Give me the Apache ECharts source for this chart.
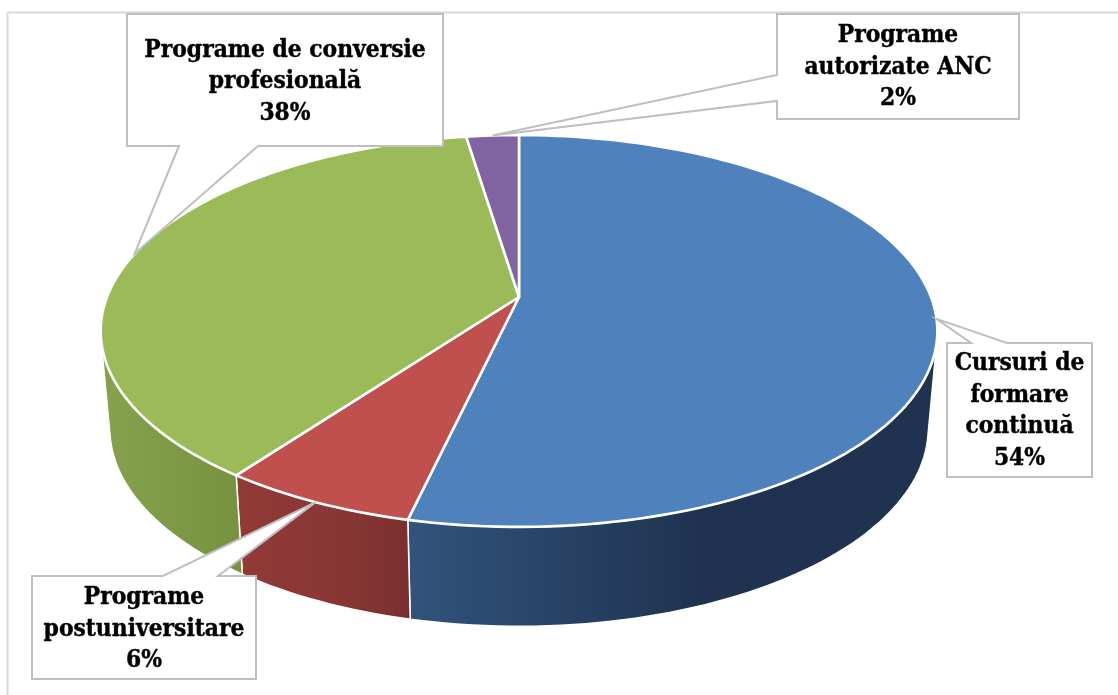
<!DOCTYPE html>
<html><head><meta charset="utf-8">
<style>html,body{margin:0;padding:0;background:#fff}#c{width:1118px;height:695px}</style>
<script src="https://cdn.jsdelivr.net/npm/echarts@6/dist/echarts.min.js"></script>
</head><body><div id="c"></div>
<script>
// Data
const categories = ['Cursuri de formare continuă','Programe postuniversitare','Programe de conversie profesională','Programe autorizate ANC'];
const values = [53.6, 6.45, 37.55, 2.4];

// Styles
const topColors = ['#4f81bd','#c0504d','#9bbb59','#8064a2'];
const sideStops = [
  [[0,'#32537c'],[0.55,'#1f3350'],[1,'#1f3350']],
  [[0,'#923a38'],[0.6,'#883634'],[1,'#7a302f']],
  [[0,'#86a24e'],[1,'#76923e']],
  [[0,'#604a7b'],[1,'#604a7b']]
];
// Layout (callout boxes)
const labelLines = [
  ['Cursuri de','formare','continuă'],
  ['Programe','postuniversitare'],
  ['Programe de conversie','profesională'],
  ['Programe','autorizate ANC']
];
const boxes = [
  {l:947,t:343,r:1092,b:477,side:'top',p:[971,1007],dy:1},
  {l:32,t:576,r:256,b:679,side:'top',p:[163,218],dy:2},
  {l:127,t:14,r:443,b:146,side:'bottom',p:[179,258],dy:2},
  {l:777,t:14,r:1019,b:119,side:'left',p:[75,101],dy:1}
];
const FONT = '"DejaVu Serif Condensed"';
const FS = 24.3, LH = 31.5;

// Perspective projection of the pie disc
const K = 0.1735, CX = 519;
const LEVELS = {top:{cy:297,rx:412,ry:190}, bottom:{cy:394,rx:403,ry:192}};
function rim(deg, level){
  const L = LEVELS[level], a = deg*Math.PI/180;
  const u = Math.sin(a), v = -Math.cos(a), s = 1/(1-K*v);
  return [CX + L.rx*u*s, L.cy + L.ry*v*s];
}
const total = values.reduce((a,b)=>a+b,0);
let acc = 0;
const spans = values.map(v=>{const a=acc/total*360; acc+=v; return [a,acc/total*360];});
function arc(a,b,level){
  const n = Math.max(2,Math.ceil(Math.abs(b-a)/1.5)), pts=[];
  for(let i=0;i<=n;i++) pts.push(rim(a+(b-a)*i/n,level));
  return pts;
}
const FRONT = [102,258]; // angles between which the side wall faces the viewer

function renderSide(params){
  const i = params.dataIndex, a = Math.max(spans[i][0],FRONT[0]), b = Math.min(spans[i][1],FRONT[1]);
  if(b<=a) return {type:'group',children:[]};
  const pts = arc(a,b,'top').concat(arc(b,a,'bottom'));
  const xs = pts.map(p=>p[0]);
  return {type:'polygon',shape:{points:pts},style:{
    fill:{type:'linear',x:Math.min(...xs),y:0,x2:Math.max(...xs),y2:0,global:true,
      colorStops:sideStops[i].map(s=>({offset:s[0],color:s[1]}))},
    stroke:'#fff',lineWidth:1.5,lineJoin:'round'}};
}
function renderTop(params){
  const i = params.dataIndex;
  const pts = [[CX,LEVELS.top.cy]].concat(arc(spans[i][0],spans[i][1],'top'));
  return {type:'polygon',shape:{points:pts},style:{fill:topColors[i],stroke:'#fff',lineWidth:2.6,lineJoin:'round'}};
}
function renderCallout(params){
  const i = params.dataIndex, B = boxes[i];
  const tip = rim((spans[i][0]+spans[i][1])/2,'top');
  let pts;
  if(B.side==='top') pts=[[B.l,B.t],[B.p[0],B.t],tip,[B.p[1],B.t],[B.r,B.t],[B.r,B.b],[B.l,B.b]];
  else if(B.side==='bottom') pts=[[B.l,B.t],[B.r,B.t],[B.r,B.b],[B.p[1],B.b],tip,[B.p[0],B.b],[B.l,B.b]];
  else pts=[[B.l,B.t],[B.r,B.t],[B.r,B.b],[B.l,B.b],[B.l,B.p[1]],tip,[B.l,B.p[0]]];
  const text = labelLines[i].concat([Math.round(values[i])+'%']).join('\n');
  return {type:'group',children:[
    {type:'polygon',shape:{points:pts},style:{fill:'#fff',stroke:'#bfbfbf',lineWidth:2}},
    {type:'text',x:(B.l+B.r)/2,y:(B.t+B.b)/2+B.dy,style:{text:text,fill:'#000',stroke:'#000',lineWidth:0.4,
      font:'bold '+FS+'px '+FONT,lineHeight:LH,align:'center',verticalAlign:'middle'}}
  ]};
}
const chart = echarts.init(document.getElementById('c'),null,{renderer:'canvas'});
const seriesData = values.map((v,i)=>({name:categories[i],value:v}));
chart.setOption({
  animation:false,
  backgroundColor:'#fff',
  graphic:[
    {type:'line',silent:true,z:0,shape:{x1:7.5,y1:12.5,x2:1118,y2:12.5},style:{stroke:'#d9d9d9',lineWidth:2}},
    {type:'line',silent:true,z:0,shape:{x1:7.5,y1:12.5,x2:7.5,y2:695},style:{stroke:'#d9d9d9',lineWidth:2}}
  ],
  series:[
    {type:'custom',coordinateSystem:'none',z:1,silent:true,data:seriesData,renderItem:renderSide},
    {type:'custom',coordinateSystem:'none',z:2,silent:true,data:seriesData,renderItem:renderTop},
    {type:'custom',coordinateSystem:'none',z:3,silent:true,data:seriesData,renderItem:renderCallout}
  ]
});
</script></body></html>
